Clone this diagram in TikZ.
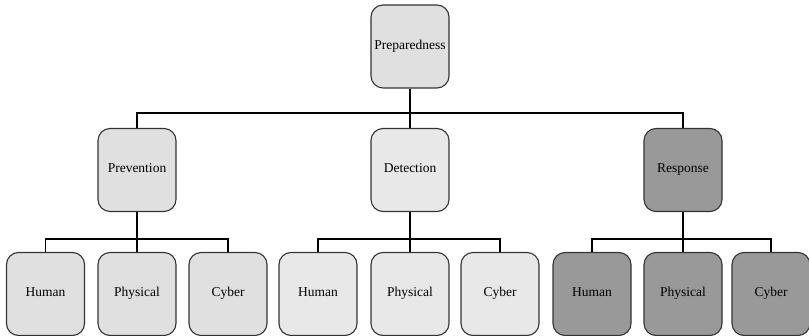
\documentclass[tikz,border=0pt]{standalone}
\usepackage{fontspec}
\setmainfont{Liberation Serif}
\begin{document}
\begin{tikzpicture}[x=1pt,y=-1pt,
  box/.style={draw=black!80,line width=1.1pt,rounded corners=12pt,
    minimum width=78pt,minimum height=83pt,inner sep=0pt,
    text height=1.6ex,text depth=0.4ex,
    font=\fontsize{13.5}{15}\selectfont},
  lightbox/.style={box,fill=black!12},
  paleBox/.style={box,fill=black!9},
  darkbox/.style={box,fill=black!40},
  link/.style={draw=black,line width=1.6pt}]
\useasboundingbox (0,0) rectangle (809,336);
% top
\node[lightbox] (prep) at (410,46.5) {Preparedness};
% second level
\node[lightbox] (prev) at (137,170) {Prevention};
\node[paleBox] (det) at (410,170) {Detection};
\node[darkbox] (resp) at (683,170) {Response};
% third level
\node[lightbox] (h1) at (45.5,294) {Human};
\node[lightbox] (p1) at (137,294) {Physical};
\node[lightbox] (c1) at (228,294) {Cyber};
\node[paleBox] (h2) at (318,294) {Human};
\node[paleBox] (p2) at (410,294) {Physical};
\node[paleBox] (c2) at (500,294) {Cyber};
\node[darkbox] (h3) at (592,294) {Human};
\node[darkbox] (p3) at (683,294) {Physical};
\node[darkbox] (c3) at (771,294) {Cyber};
% connectors
\coordinate (bar0) at (410,113);
\coordinate (lev2) at (0,239);
\draw[link] (prep.south) -- (bar0);
\draw[link] (prev.north) |- (bar0) -| (resp.north);
\draw[link] (bar0) -- (det.north);
\foreach \pn/\a/\b/\c in {prev/h1/p1/c1,det/h2/p2/c2,resp/h3/p3/c3}{
  \coordinate (j-\pn) at (\pn.south |- lev2);
  \draw[link] (\pn.south) -- (\b.north);
  \draw[link] (\a.north) |- (j-\pn) -| (\c.north);
}
\end{tikzpicture}
\end{document}
